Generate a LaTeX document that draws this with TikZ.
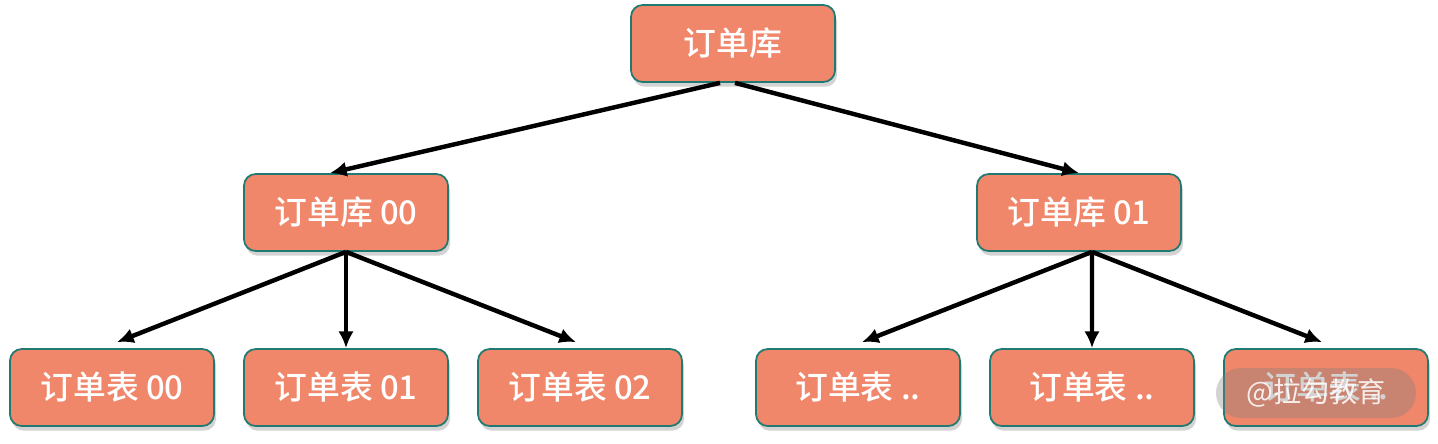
\documentclass[tikz,border=0pt]{standalone}
\usepackage{fontspec}
\newfontfamily\cjk{Noto Sans CJK SC}
\newfontfamily\cjkmed{Noto Sans CJK SC Medium}
\usetikzlibrary{shadows,arrows.meta}
\definecolor{boxfill}{HTML}{F0866A}
\definecolor{boxline}{HTML}{217A72}
\tikzset{
  box/.style={draw=boxline,line width=1.5pt,fill=boxfill,rounded corners=10pt,
    minimum width=6.12cm,minimum height=2.31cm,inner sep=0pt,text=white,
    font=\cjkmed\fontsize{28}{32}\selectfont,
    drop shadow={shadow xshift=0.6mm,shadow yshift=-1.4mm,opacity=.35}},
  link/.style={-{Latex[length=0.5cm,width=0.46cm]},line width=3.8pt,black}
}
\begin{document}
\begin{tikzpicture}[x=0.03cm,y=-0.03cm]
\useasboundingbox (0,0) rectangle (1438,443);
\node[box] (db) at (733,43.5) {订单库};
\node[box] (db0) at (346,212.5) {订单库 00};
\node[box] (db1) at (1079,212.5) {订单库 01};
\node[box] (t0) at (112,387.5) {订单表 00};
\node[box] (t1) at (346,387.5) {订单表 01};
\node[box] (t2) at (580,387.5) {订单表 02};
\node[box] (t3) at (858,387.5) {订单表 ..};
\node[box] (t4) at (1092,387.5) {订单表 ..};
\node[box] (t5) at (1326,387.5) {订单表 ..};
\draw[link]([xshift=-0.39cm]db.south)--([xshift=-0.48cm]db0.north);
\draw[link]([xshift=0.06cm]db.south)--(db1.north);
\draw[link](db0.south)--([xshift=0.15cm,yshift=0.18cm]t0.north);
\draw[link](db0.south)--(t1.north);
\draw[link](db0.south)--([xshift=-0.12cm,yshift=0.18cm]t2.north);
\draw[link]([xshift=0.39cm]db1.south)--([xshift=0.12cm,yshift=0.18cm]t3.north);
\draw[link]([xshift=0.39cm]db1.south)--(t4.north);
\draw[link]([xshift=0.39cm]db1.south)--([xshift=-0.12cm,yshift=0.18cm]t5.north);
\node[fill=gray,fill opacity=.35,text opacity=.85,text=white,rounded corners=0.75cm,
  minimum width=6cm,minimum height=1.5cm,font=\cjk\fontsize{24}{28}\selectfont] (mark) at (1316,393) {@拉勾教育};
\end{tikzpicture}
\end{document}
